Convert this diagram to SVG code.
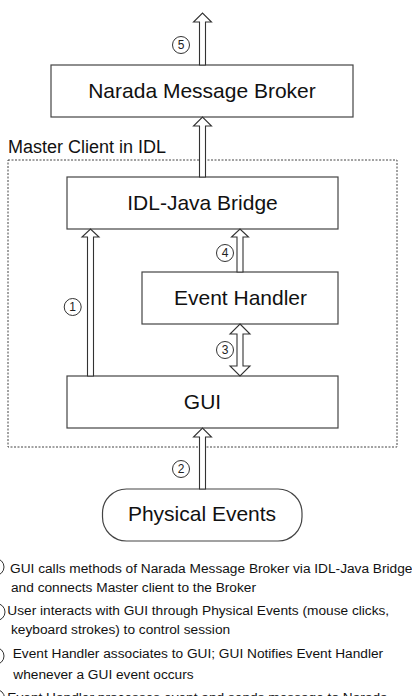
<svg xmlns="http://www.w3.org/2000/svg" width="412" height="696" viewBox="0 0 412 696">
<style>
.box{fill:#fff;stroke:#444;stroke-width:1.2}
.arrow{fill:#fff;stroke:#333;stroke-width:1.1;stroke-linejoin:miter}
.lbl{font-family:"Liberation Sans",Arial,sans-serif;fill:#111;text-anchor:middle}
.big{font-size:21px}
.num{font-family:"Liberation Sans",Arial,sans-serif;font-size:12px;fill:#222;text-anchor:middle}
.circ{fill:#fff;stroke:#333;stroke-width:1}
.leg{font-family:"Liberation Sans",Arial,sans-serif;font-size:13.7px;fill:#111}
</style>
<rect width="412" height="696" fill="#fff"/>
<g id="master-client">
<rect x="8" y="160" width="389" height="287" fill="none" stroke="#444" stroke-width="1" stroke-dasharray="2,1.5"/>
<text x="8" y="153" class="leg" style="font-size:18px">Master Client in IDL</text>
</g>
<g id="narada">
<rect class="box" x="51" y="65" width="302" height="52"/>
<text class="lbl big" x="202" y="98">Narada Message Broker</text>
</g>
<g id="bridge">
<rect class="box" x="67" y="177" width="271" height="52"/>
<text class="lbl big" x="202.5" y="210">IDL-Java Bridge</text>
</g>
<g id="handler">
<rect class="box" x="142" y="272" width="196" height="52"/>
<text class="lbl big" x="240.5" y="305">Event Handler</text>
</g>
<g id="gui">
<rect class="box" x="67" y="376" width="271" height="52"/>
<text class="lbl big" x="202.5" y="409">GUI</text>
</g>
<g id="physical">
<rect class="box" x="102.5" y="489" width="199.5" height="52" rx="24" ry="24"/>
<text class="lbl big" x="202" y="521">Physical Events</text>
</g>
<g id="connectors">
<polygon class="arrow" points="199.5,65 199.5,22 193.5,22 202.5,13 211.5,22 205.5,22 205.5,65"/>
<polygon class="arrow" points="199.5,177 199.5,126 193.5,126 202.5,117 211.5,126 205.5,126 205.5,177"/>
<polygon class="arrow" points="87.5,376 87.5,237 82,237 90.5,229 99,237 93.5,237 93.5,376"/>
<polygon class="arrow" points="237,272 237,237 231.5,237 240,229 248.5,237 243,237 243,272"/>
<polygon class="arrow" points="240,324 250,334 243,334 243,366 250,366 240,376 230,366 237,366 237,334 230,334"/>
<polygon class="arrow" points="199.5,489 199.5,437 193.5,437 202.5,428 211.5,437 205.5,437 205.5,489"/>
<circle class="circ" cx="181" cy="45" r="8.5"/><text class="num" x="181" y="49.3">5</text>
<circle class="circ" cx="72.7" cy="307" r="8.5"/><text class="num" x="72.7" y="311.3">1</text>
<circle class="circ" cx="225" cy="253" r="8.5"/><text class="num" x="225" y="257.3">4</text>
<circle class="circ" cx="225" cy="350" r="8.5"/><text class="num" x="225" y="354.3">3</text>
<circle class="circ" cx="181" cy="469" r="8.5"/><text class="num" x="181" y="473.3">2</text>
</g>
<g id="legend">
<circle class="circ" cx="-4.5" cy="567" r="8.5"/>
<circle class="circ" cx="-3.5" cy="612" r="8.5"/>
<circle class="circ" cx="-4.5" cy="656" r="8.5"/>
<circle class="circ" cx="-4" cy="698" r="8.5"/>
<text class="leg" x="10" y="572.5">GUI calls methods of Narada Message Broker via IDL-Java Bridge</text>
<text class="leg" x="11" y="591.5">and connects Master client to the Broker</text>
<text class="leg" x="7.3" y="615">User interacts with GUI through Physical Events (mouse clicks,</text>
<text class="leg" x="11" y="634">keyboard strokes) to control session</text>
<text class="leg" x="12.7" y="658">Event Handler associates to GUI; GUI Notifies Event Handler</text>
<text class="leg" x="13.3" y="679">whenever a GUI event occurs</text>
<text class="leg" x="7.3" y="702">Event Handler processes event and sends message to Narada</text>
</g>
</svg>
